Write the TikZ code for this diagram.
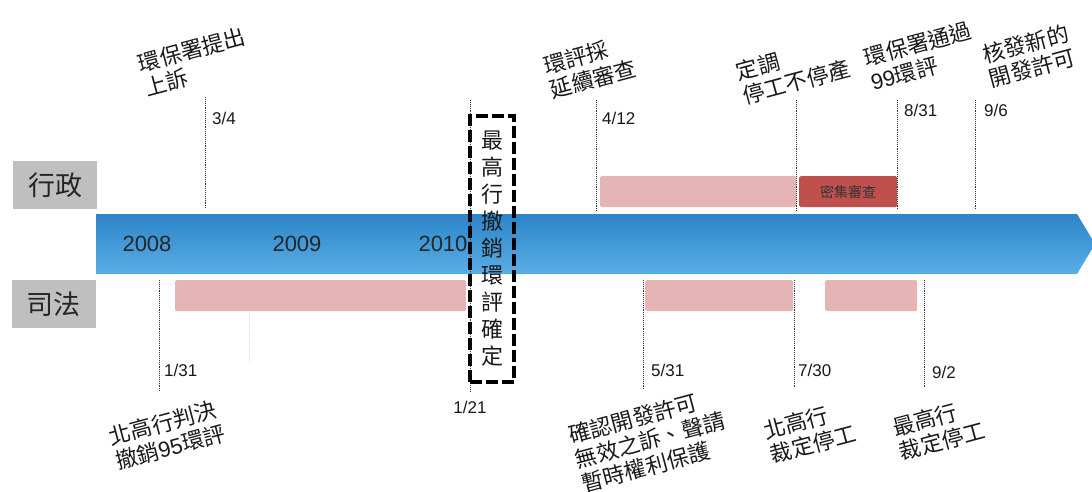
\documentclass[tikz,border=0pt]{standalone}
\usepackage{fontspec}
\setmainfont{Liberation Sans}
\newfontfamily\cjk{Noto Sans CJK TC}
\definecolor{labgray}{HTML}{BFBFBF}
\definecolor{pinkbar}{HTML}{E5B5B5}
\definecolor{redbar}{HTML}{C0504D}
\definecolor{arrowtop}{HTML}{2C85C8}
\definecolor{arrowbot}{HTML}{5AAEE6}
\begin{document}
\begin{tikzpicture}[x=1pt,y=-1pt,
  lab/.style={fill=labgray, minimum width=84pt, minimum height=48pt, inner sep=0pt, font=\cjk\fontsize{27}{30}\selectfont, text=black!85},
  ann/.style={rotate=15, align=left, inner sep=0pt, font=\cjk\fontsize{22}{25}\selectfont, text=black!90},
  datelab/.style={anchor=west, inner sep=0pt, font=\fontsize{17}{19}\selectfont, text=black!90},
  yearlab/.style={inner sep=0pt, font=\fontsize{22}{24}\selectfont, text=black!85},
  tick/.style={densely dotted, line width=0.9pt, black!80},
  bar/.style={fill=pinkbar, rounded corners=1.5pt, anchor=north west, inner sep=0pt, minimum height=31pt},
  finalbox/.style={draw=black, line width=4pt, dash pattern=on 12pt off 4pt, minimum width=44pt, minimum height=266pt, align=center, inner sep=0pt, font=\cjk\fontsize{22}{27}\selectfont, text=black!90},
]
\useasboundingbox (0,0) rectangle (1092,491);

% timeline arrow
\shade[top color=arrowtop, bottom color=arrowbot] (96,214) -- (1077,214) -- (1095,244) -- (1077,274) -- (96,274) -- cycle;

% side labels
\node[lab] (admin) at (55,185) {行政};
\node[lab] (judic) at (54,304) {司法};

% years
\node[yearlab] (y2008) at (147,244) {2008};
\node[yearlab] (y2009) at (297,244) {2009};
\node[yearlab] (y2010) at (443,244) {2010};

% bars
\node[bar, minimum width=196pt] (adm1) at (600,176) {};
\node[bar, fill=redbar, minimum width=98pt, font=\cjk\fontsize{14}{16}\selectfont, text=black!80] (dense) at (799,176) {密集審查};
\node[bar, minimum width=291pt] (jud1) at (175,280) {};
\node[bar, minimum width=148pt] (jud2) at (645,280) {};
\node[bar, minimum width=92pt] (jud3) at (825,280) {};

% dotted ticks, top
\draw[tick] (205,97) coordinate (ta) -- (205,209) coordinate (tab);
\draw[tick] (596,100) coordinate (tb) -- (596,211) coordinate (tbb);
\draw[tick] (796,100) coordinate (tc) -- (796,211) coordinate (tcb);
\draw[tick] (897,100) coordinate (td) -- (897,210) coordinate (tdb);
\draw[tick] (975,100) coordinate (te) -- (975,210) coordinate (teb);
\draw[tick] (470,100) coordinate (tf) -- (470,392) coordinate (tfb);
% dotted ticks, bottom
\draw[tick] (159,280) coordinate (ba) -- (159,391) coordinate (bab);
\draw[tick] (643,280) coordinate (bb) -- (643,390) coordinate (bbb);
\draw[tick] (794,280) coordinate (bc) -- (794,388) coordinate (bcb);
\draw[tick] (924,280) coordinate (bd) -- (924,388) coordinate (bdb);
\draw[densely dotted, line width=0.6pt, black!12] (249,313) coordinate (fa) -- (249,363) coordinate (fab);

% dates
\node[datelab] (d34) at (212,118) {3/4};
\node[datelab] (d412) at (602,118) {4/12};
\node[datelab] (d831) at (904,110) {8/31};
\node[datelab] (d96) at (984,110) {9/6};
\node[datelab] (d131) at (164,370) {1/31};
\node[datelab, anchor=center] (d121) at (470,407) {1/21};
\node[datelab] (d531) at (651,370) {5/31};
\node[datelab] (d730) at (798,370) {7/30};
\node[datelab] (d92) at (932,372) {9/2};

% final judgement box
\node[finalbox] (final) at (492,249) {最\\高\\行\\撤\\銷\\環\\評\\確\\定};

% annotations top
\node[ann] (n1) at (195,62) {環保署提出\\上訴};
\node[ann] (n2) at (590,67) {環評採\\延續審查};
\node[ann] (n3) at (793,70) {定調\\停工不停產};
\node[ann] (n4) at (921,56) {環保署通過\\\fontspec{Liberation Sans}99{\cjk 環評}};
\node[ann] (n5) at (1029,56) {核發新的\\開發許可};
% annotations bottom
\node[ann] (n6) at (167,435) {北高行判決\\撤銷{\fontspec{Liberation Sans}95}環評};
\node[ann] (n7) at (650,440) {確認開發許可\\無效之訴、聲請\\暫時權利保護};
\node[ann] (n8) at (810,432) {北高行\\裁定停工};
\node[ann] (n9) at (939,429) {最高行\\裁定停工};
\end{tikzpicture}
\end{document}
